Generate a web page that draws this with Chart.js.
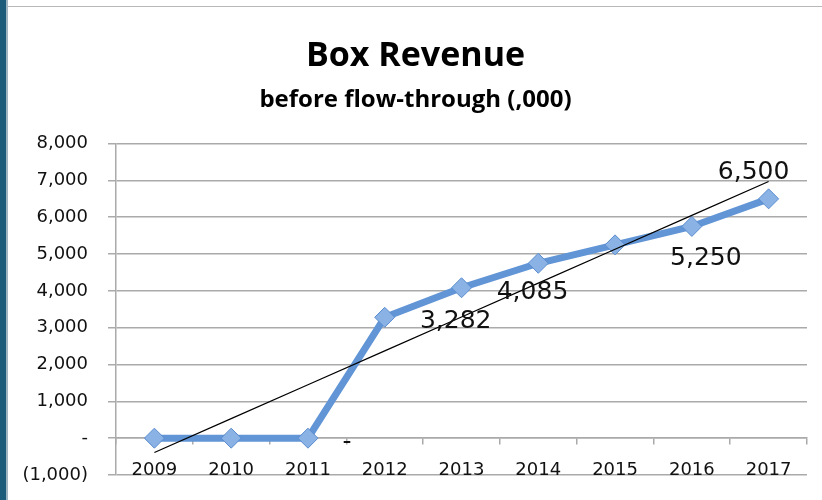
<!DOCTYPE html>
<html>
<head>
<meta charset="utf-8">
<title>Box Revenue</title>
<script src="https://cdn.jsdelivr.net/npm/chart.js@4.4.1/dist/chart.umd.min.js"></script>
<style>
  html, body { margin: 0; padding: 0; background: #fff; }
  #wrap { position: relative; width: 822px; height: 500px; overflow: hidden; }
  #sideBar { position: absolute; left: 0; top: 0; width: 6px; height: 500px; background: #1c5b79; }
  #sideEdge { position: absolute; left: 6px; top: 0; width: 2px; height: 500px; background: #9fb6c2; }
  #topLine { position: absolute; left: 8px; top: 6px; right: 0; height: 1px; background: #b8b8b8; }
</style>
</head>
<body>
<div id="wrap">
  <canvas id="revenueChart" width="822" height="500"></canvas>
  <div id="sideBar"></div>
  <div id="sideEdge"></div>
  <div id="topLine"></div>
</div>
<script>
// categories and values
const years = ['2009', '2010', '2011', '2012', '2013', '2014', '2015', '2016', '2017'];
const revenue = [0, 0, 0, 3282, 4085, 4750, 5250, 5750, 6500];

// data labels as they sit in the original (index of the point they hang off)
const labelIndex = [2, 3, 4, 7, 8];
const labelText = ['-', '3,282', '4,085', '5,250', '6,500'];

// y tick labels
const yTickValues = [8000, 7000, 6000, 5000, 4000, 3000, 2000, 1000, 0, -1000];
const yTickText = ['8,000', '7,000', '6,000', '5,000', '4,000', '3,000', '2,000', '1,000', '-', '(1,000)'];

// linear trendline (least squares, like Excel's)
function trendline(vals) {
  const n = vals.length;
  let sx = 0, sy = 0, sxy = 0, sxx = 0;
  vals.forEach((v, i) => { sx += i; sy += v; sxy += i * v; sxx += i * i; });
  const slope = (n * sxy - sx * sy) / (n * sxx - sx * sx);
  const icpt = (sy - slope * sx) / n;
  return vals.map((v, i) => icpt + slope * i);
}

// pixel nudges for each data label, relative to its point
const labelOffsets = [[39, 4], [71, 4], [71, 5], [14, 32], [-15, -26]];

const dataLabels = {
  id: 'dataLabels',
  afterDatasetsDraw(chart) {
    const meta = chart.getDatasetMeta(1);
    const ctx = chart.ctx;
    ctx.save();
    ctx.font = '25px "DejaVu Sans"';
    ctx.fillStyle = '#111';
    ctx.textAlign = 'center';
    ctx.textBaseline = 'middle';
    labelIndex.forEach((idx, k) => {
      const pt = meta.data[idx];
      ctx.fillText(labelText[k], pt.x + labelOffsets[k][0], pt.y + labelOffsets[k][1]);
    });
    ctx.restore();
  }
};

function initChart() {
  const ctx = document.getElementById('revenueChart').getContext('2d');
  new Chart(ctx, {
    type: 'line',
    data: {
      labels: years,
      datasets: [{
        label: 'Trend',
        data: trendline(revenue),
        borderColor: '#000',
        borderWidth: 1.2,
        pointRadius: 0,
        fill: false,
        tension: 0,
        order: 0
      }, {
        label: 'Box Revenue',
        data: revenue,
        borderColor: '#6295d6',
        borderWidth: 7,
        pointStyle: 'rectRot',
        pointRadius: 10,
        pointBackgroundColor: '#8ab2e4',
        pointBorderColor: '#5a8ccf',
        pointBorderWidth: 1,
        fill: false,
        tension: 0,
        order: 1
      }]
    },
    options: {
      responsive: false,
      animation: false,
      layout: { padding: { left: 24, right: 15, top: 22, bottom: 25 } },
      plugins: {
        legend: { display: false },
        tooltip: { enabled: false },
        title: {
          display: true,
          text: 'Box Revenue',
          color: '#000',
          font: { family: '"Open Sans"', size: 34, weight: 'bold' },
          padding: { top: 14, bottom: 0 }
        },
        subtitle: {
          display: true,
          text: 'before flow-through (,000)',
          color: '#000',
          font: { family: '"Open Sans"', size: 24, weight: 'bold' },
          padding: { top: 9, bottom: 29 }
        }
      },
      scales: {
        x: {
          position: { y: 0 },
          offset: true,
          afterFit(scale) {
            scale.height = 0;
            scale.paddingBottom = 0;
          },
          grid: {
            offset: true,
            drawOnChartArea: false,
            drawTicks: true,
            tickLength: 6,
            color: '#aaa',
            lineWidth: 1.5
          },
          border: { display: true, color: '#aaa', width: 1.5 },
          ticks: {
            color: '#111',
            padding: 15,
            maxRotation: 0,
            font: { family: '"DejaVu Sans"', size: 18 }
          }
        },
        y: {
          min: -1000,
          max: 8000,
          afterBuildTicks(scale) {
            scale.ticks = yTickValues.map(v => ({ value: v }));
          },
          afterFit(scale) {
            scale.width = 92;
            scale.paddingBottom = 0;
          },
          grid: {
            color: '#aaa',
            lineWidth: 1.5,
            drawTicks: true,
            tickLength: 8
          },
          border: { display: true, color: '#aaa', width: 1.5 },
          ticks: {
            color: '#111',
            padding: 20,
            font: { family: '"DejaVu Sans"', size: 18 },
            callback: function(value) {
              const i = yTickValues.indexOf(value);
              return i >= 0 ? yTickText[i] : '';
            }
          }
        }
      }
    },
    plugins: [dataLabels]
  });
}

window.addEventListener('load', initChart);
</script>
</body>
</html>
